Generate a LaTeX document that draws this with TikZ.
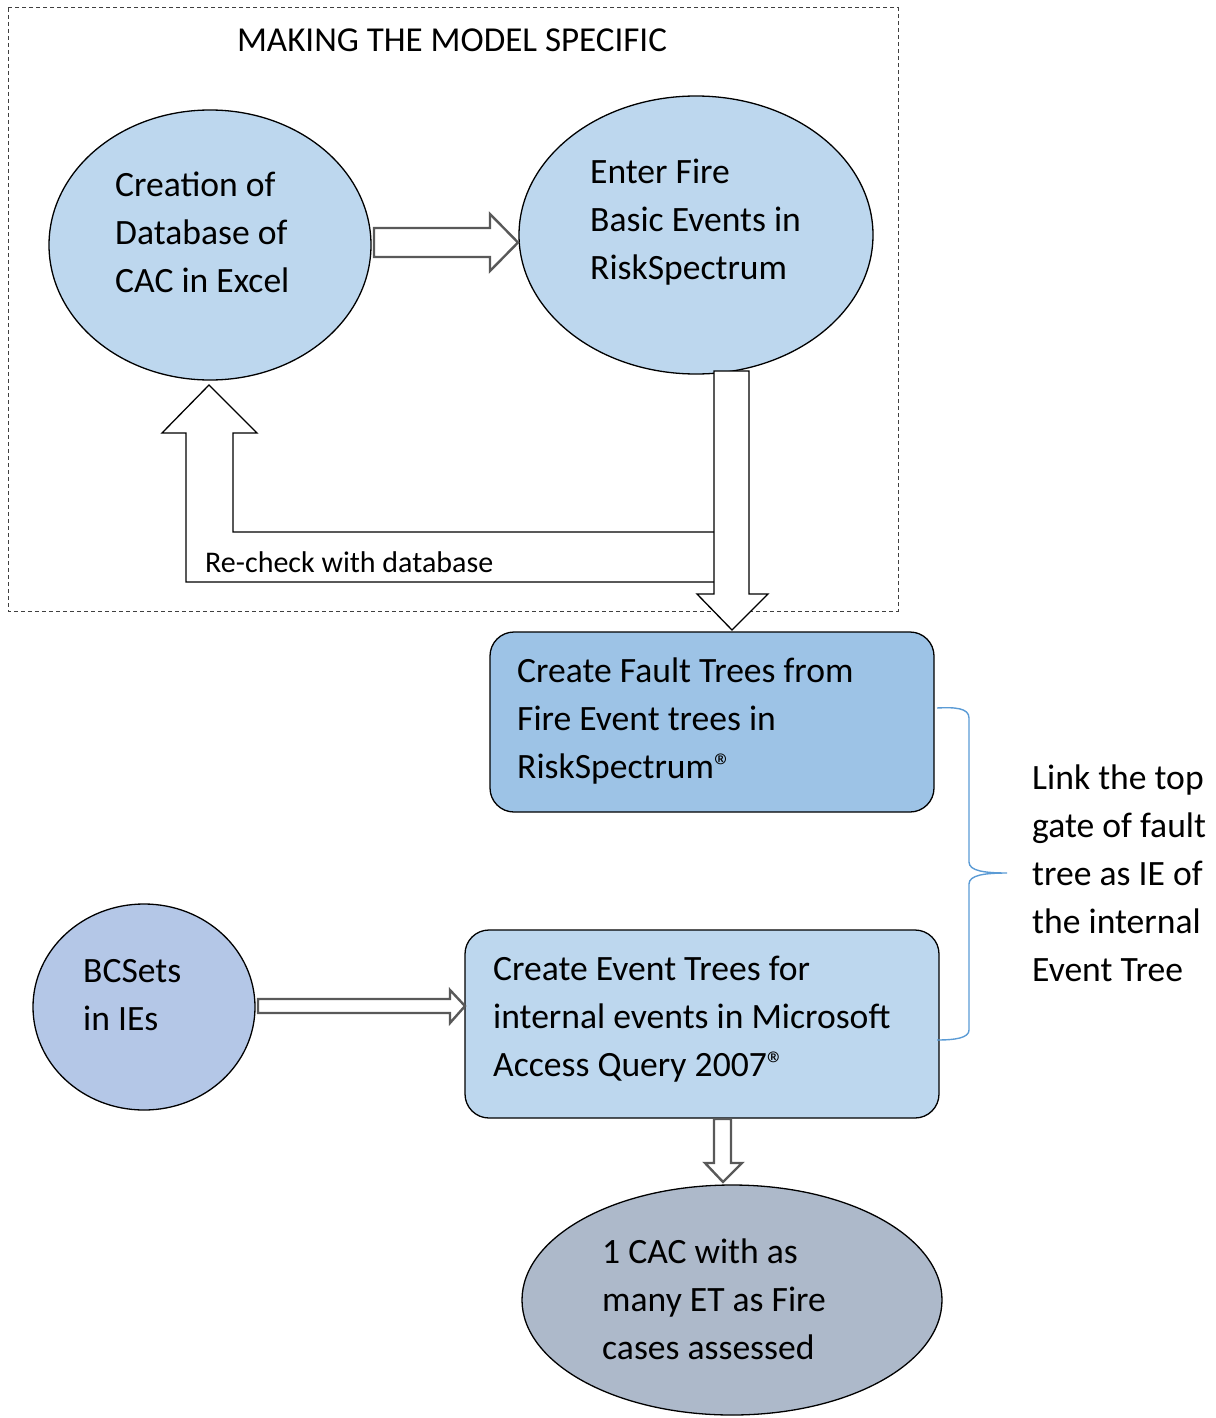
\documentclass[tikz,border=0pt]{standalone}
\usepackage{fontspec}
\setmainfont{Carlito}
\usetikzlibrary{shapes.geometric,calc}
\definecolor{lb}{HTML}{BDD7EE}
\definecolor{mb}{HTML}{9DC3E6}
\definecolor{lav}{HTML}{B4C7E7}
\definecolor{gb}{HTML}{ADB9CA}
\definecolor{brc}{HTML}{5B9BD5}
\definecolor{arr}{HTML}{595959}
\begin{document}
\begin{tikzpicture}[x=1pt,y=-1pt,
  ell/.style={ellipse,draw=black,line width=1.3pt,inner sep=0pt},
  rbox/.style={rectangle,rounded corners=24pt,draw=black,line width=1.3pt,inner sep=0pt},
  txt/.style={anchor=west,align=left,inner sep=0pt,font=\fontsize{35.6}{48}\selectfont},
  blk/.style={draw=arr,line width=2.4pt,fill=white,line join=miter},
  thinblk/.style={draw=black,line width=1.3pt,fill=white,line join=miter}]
\useasboundingbox (0,0) rectangle (1215,1418);
% dashed frame
\draw[black!75,line width=1pt,dash pattern=on 4pt off 3pt] (8,8) rectangle (898,611);
\node[inner sep=0pt,font=\fontsize{35}{40}\selectfont] (title) at (452,40) {MAKING THE MODEL SPECIFIC};
% ellipses
\node[ell,fill=lb,minimum width=322pt,minimum height=270pt] (e1) at (210,245) {};
\node[ell,fill=lb,minimum width=354pt,minimum height=278pt] (e2) at (696,235) {};
\node[txt] (t1) at (115,232) {Creation of\\Database of\\CAC in Excel};
\node[txt] (t2) at (590,222) {Enter Fire\\Basic Events in\\RiskSpectrum};
% right arrow e1 -> e2
\draw[blk] (374,228) -- (490,228) -- (490,214) -- (518,242.5) -- (490,271) -- (490,257) -- (374,257) -- cycle;
% U arrow back to e1
\draw[thinblk] (714,532) -- (233,532) -- (233,433) -- (257,433) -- (209,385) -- (162,433) -- (186,433) -- (186,582) -- (714,582);
\node[anchor=west,inner sep=0pt,font=\fontsize{30}{34}\selectfont] (recheck) at (205,562) {Re-check with database};
% down arrow e2 -> box1
\draw[thinblk] (714,371) -- (749,371) -- (749,594) -- (768,594) -- (732,630) -- (697,594) -- (714,594) -- cycle;
% boxes
\node[rbox,fill=mb,minimum width=444pt,minimum height=180pt] (b1) at (712,722) {};
\node[txt] (tb1) at (517,721) {Create Fault Trees from\\Fire Event trees in\\RiskSpectrum®};
\node[rbox,fill=lb,minimum width=474pt,minimum height=188pt] (b2) at (702,1024) {};
\node[txt] (tb2) at (493,1019) {Create Event Trees for\\internal events in Microsoft\\Access Query 2007®};
% BCSets
\node[ell,fill=lav,minimum width=222pt,minimum height=206pt] (e3) at (144,1007) {};
\node[txt] (t3) at (83,995) {BCSets\\in IEs};
\draw[blk] (258,999) -- (450,999) -- (450,990) -- (465,1006) -- (450,1023) -- (450,1013) -- (258,1013) -- cycle;
% bottom ellipse
\node[ell,fill=gb,minimum width=420pt,minimum height=230pt] (e4) at (732,1300) {};
\node[txt] (t4) at (602,1299) {1 CAC with as\\many ET as Fire\\cases assessed};
\draw[blk] (714,1119) -- (731,1119) -- (731,1163) -- (742,1163) -- (723,1182) -- (705,1163) -- (714,1163) -- cycle;
% brace
\draw[brc,line width=1.4pt] (937,708) .. controls (955,707) and (969,708) .. (969,718)
  -- (969,862) .. controls (969,871) and (985,873) .. (1007,873)
  .. controls (985,873) and (969,875) .. (969,884)
  -- (969,1030) .. controls (969,1038) and (955,1040) .. (937,1040);
\node[txt] (tbr) at (1032,873) {Link the top\\gate of fault\\tree as IE of\\the internal\\Event Tree};
\end{tikzpicture}
\end{document}
